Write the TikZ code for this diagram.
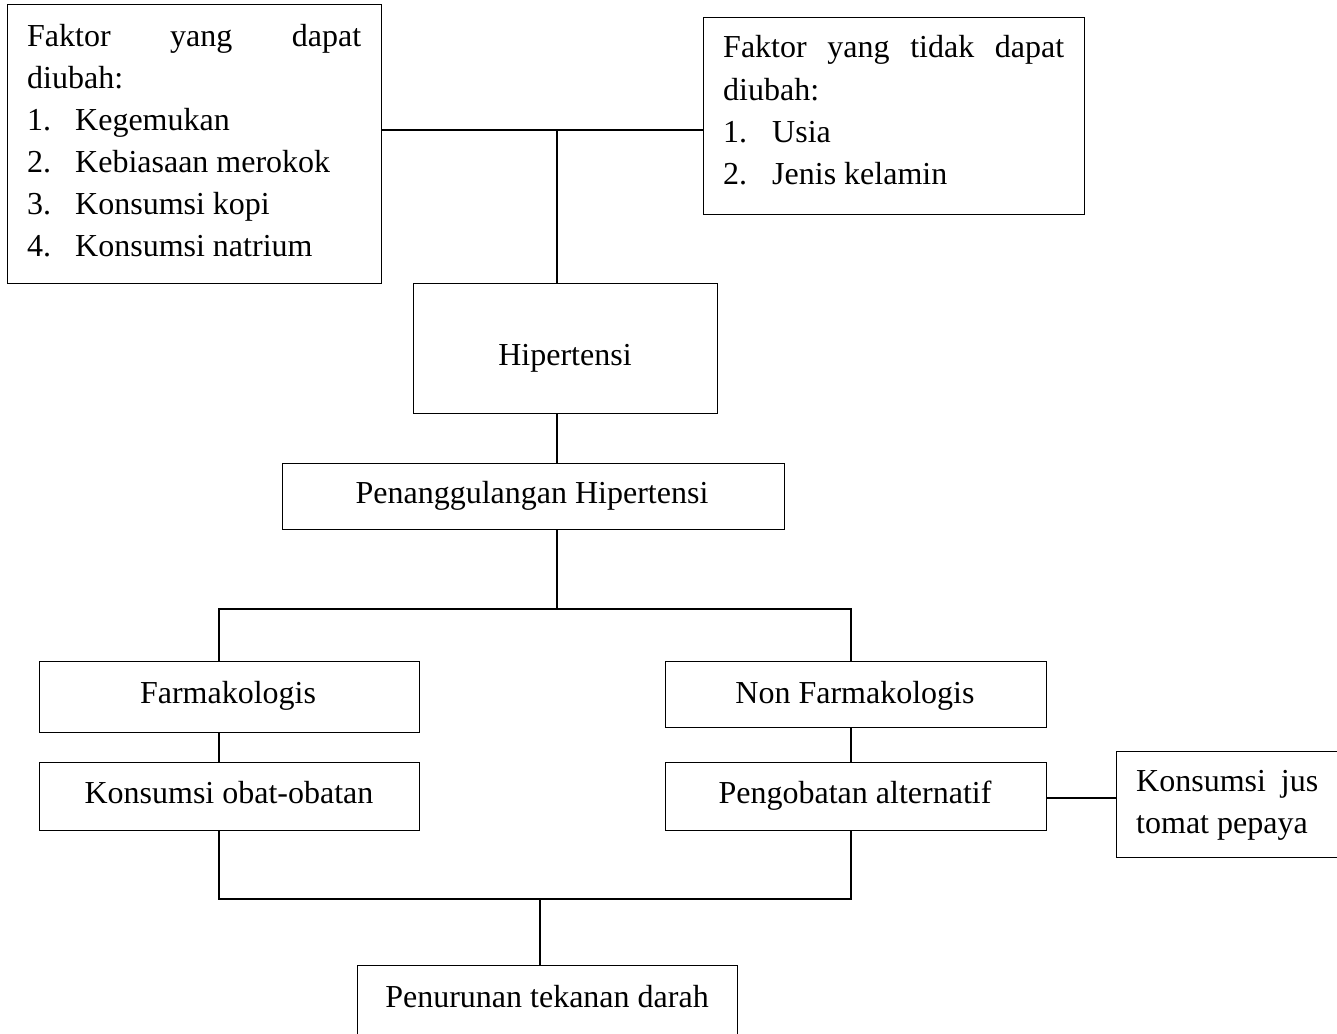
\documentclass[tikz,border=0pt]{standalone}
\usepackage{fontspec}
\setmainfont{Liberation Serif}
\begin{document}
\begin{tikzpicture}[x=1pt,y=-1pt,
  box/.style={draw=black, line width=1.3pt, inner sep=0pt, anchor=north west},
  txt/.style={inner sep=0pt, anchor=base, font=\fontsize{32}{42}\selectfont},
  ltxt/.style={inner sep=0pt, anchor=base west, font=\fontsize{32}{42}\selectfont},
  conn/.style={draw=black, line width=1.3pt}]
\useasboundingbox (0,0) rectangle (1337,1033);
\clip (0,0) rectangle (1337,1033);
\fill[white] (0,0) rectangle (1337,1033);

% boxes
\node[box, minimum width=374pt, minimum height=279pt] (A) at (7,4) {};
\node[box, minimum width=381pt, minimum height=197pt] (B) at (703,17) {};
\node[box, minimum width=304pt, minimum height=130pt] (hip) at (413,283) {};
\node[box, minimum width=502pt, minimum height=66pt] (pen) at (282,463) {};
\node[box, minimum width=380pt, minimum height=71pt] (farm) at (39,661) {};
\node[box, minimum width=381pt, minimum height=66pt] (non) at (665,661) {};
\node[box, minimum width=380pt, minimum height=68pt] (obat) at (39,762) {};
\node[box, minimum width=381pt, minimum height=68pt] (alt) at (665,762) {};
\node[box, minimum width=240pt, minimum height=106pt] (jus) at (1116,751) {};
\node[box, minimum width=380pt, minimum height=90pt] (pnr) at (357,965) {};

% texts
\node[ltxt] (A1) at (27,46) {\makebox[334pt][s]{Faktor yang dapat}};
\node[ltxt] (A2) at (27,88) {diubah:};
\node[ltxt] (A3) at (27,130) {\makebox[48pt][l]{1.}Kegemukan};
\node[ltxt] (A4) at (27,172) {\makebox[48pt][l]{2.}Kebiasaan merokok};
\node[ltxt] (A5) at (27,214) {\makebox[48pt][l]{3.}Konsumsi kopi};
\node[ltxt] (A6) at (27,256) {\makebox[48pt][l]{4.}Konsumsi natrium};

\node[ltxt] (B1) at (723,58) {\makebox[341pt][s]{Faktor yang tidak dapat}};
\node[ltxt] (B2) at (723,100) {diubah:};
\node[ltxt] (B3) at (723,142) {\makebox[49pt][l]{1.}Usia};
\node[ltxt] (B4) at (723,184) {\makebox[49pt][l]{2.}Jenis kelamin};

\node[txt] (hipt) at (565,365) {Hipertensi};
\node[txt] (pent) at (532,503) {Penanggulangan Hipertensi};
\node[txt] (farmt) at (228,703) {Farmakologis};
\node[txt] (nont) at (855,703) {Non Farmakologis};
\node[txt] (obatt) at (229,803) {Konsumsi obat-obatan};
\node[txt] (altt) at (855,803) {Pengobatan alternatif};
\node[ltxt] (jus1) at (1136,791) {\makebox[182pt][s]{Konsumsi jus}};
\node[ltxt] (jus2) at (1136,833) {tomat pepaya};
\node[txt] (pnrt) at (547,1007) {Penurunan tekanan darah};

% junction coordinates
\coordinate (hub) at (557,130);
\coordinate (sL) at (219,609);
\coordinate (sR) at (851,609);
\coordinate (sM) at (557,609);
\coordinate (jL) at (219,899);
\coordinate (jR) at (851,899);
\coordinate (jM) at (540,899);
\coordinate (jy) at (0,798);

% connectors
\draw[conn] (A.east |- hub) -- (B.west |- hub);
\draw[conn] (hub) -- (hub |- hip.north);
\draw[conn] (hip.south -| hub) -- (pen.north -| hub);
\draw[conn] (pen.south -| hub) -- (sM);
\draw[conn] (sL |- farm.north) -- (sL) -- (sR) -- (sR |- non.north);
\draw[conn] (sL |- farm.south) -- (sL |- obat.north);
\draw[conn] (sR |- non.south) -- (sR |- alt.north);
\draw[conn] (alt.east |- jy) -- (jus.west |- jy);
\draw[conn] (jL |- obat.south) -- (jL) -- (jR) -- (jR |- alt.south);
\draw[conn] (jM) -- (jM |- pnr.north);
\end{tikzpicture}
\end{document}
